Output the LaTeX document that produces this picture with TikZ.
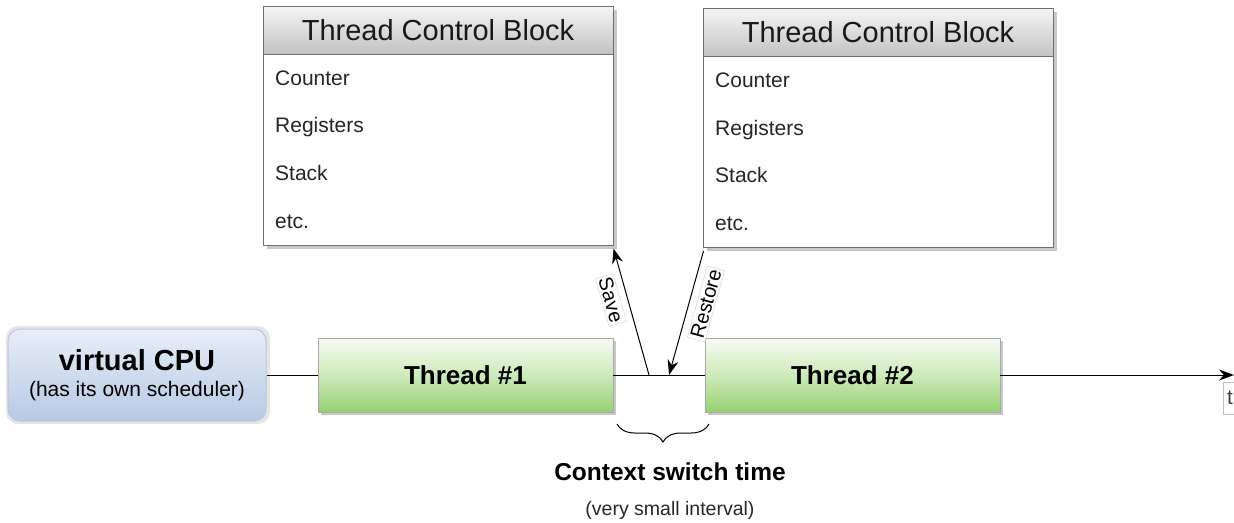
\documentclass[tikz,border=0pt]{standalone}
\usepackage{fontspec}
\setmainfont{Liberation Sans}
\usetikzlibrary{arrows.meta,decorations.pathreplacing,shadings}
\definecolor{tcbborder}{HTML}{707070}
\definecolor{tcbtop}{HTML}{F5F5F5}
\definecolor{tcbbot}{HTML}{C2C2C2}
\definecolor{shadowgray}{HTML}{C8C8C8}
\definecolor{grtop}{HTML}{F6FBF2}
\definecolor{grmid}{HTML}{CDEABB}
\definecolor{grbot}{HTML}{96D071}
\definecolor{thborder}{HTML}{A8A8A8}
\definecolor{cputop}{HTML}{E8EEF8}
\definecolor{cpubot}{HTML}{B6C9E4}
\definecolor{cpuborder}{HTML}{B9C7DA}
\newcommand{\fsz}[1]{\fontsize{#1}{#1}\selectfont}
\tikzset{
  tcbhead/.style={draw=tcbborder, line width=1pt, top color=tcbtop, bottom color=tcbbot,
    minimum width=350pt, minimum height=48pt, inner sep=0pt},
  tcbbody/.style={draw=tcbborder, line width=1pt, fill=white,
    minimum width=350pt, minimum height=191pt, inner sep=0pt},
  tcbtitle/.style={anchor=base, inner sep=0pt, font=\fsz{29}, text=black!90},
  tcbitem/.style={anchor=base west, inner sep=0pt, font=\fsz{21}, text=black!85},
  threadbox/.style={draw=thborder, line width=0.8pt, top color=grtop, bottom color=grbot, middle color=grmid,
    minimum width=295pt, minimum height=74pt, inner sep=0pt, font=\bfseries\fsz{26}},
  arr/.style={-{Stealth[length=15pt,width=11pt]}, line width=1pt},
  tline/.style={line width=1pt},
  rotlabel/.style={draw=black!20, fill=white, inner sep=2pt, font=\fsz{20}},
}
\begin{document}
\begin{tikzpicture}[x=1pt,y=-1pt]
\useasboundingbox (0,0) rectangle (1234,522);
\clip (0,0) rectangle (1234,522);
% shadows
\fill[shadowgray] (267,10) rectangle (617,249);
\fill[shadowgray] (707,12) rectangle (1057,251);
\fill[shadowgray] (321,341) rectangle (616,415);
\fill[shadowgray] (708,341) rectangle (1003,415);
\fill[black!10, rounded corners=12pt] (6,326) rectangle (270,424);
% TCB 1
\node[tcbbody] (tcb1) at (438,149.5) {};
\node[tcbhead] (tcb1h) at (438,30) {};
\node[tcbtitle] (t1) at (438,40) {Thread Control Block};
\node[tcbitem] (c1) at (275,85) {Counter};
\node[tcbitem] (r1) at (275,132) {Registers};
\node[tcbitem] (s1) at (275,180) {Stack};
\node[tcbitem] (e1) at (275,228) {etc.};
% TCB 2
\node[tcbbody] (tcb2) at (878,152) {};
\node[tcbhead] (tcb2h) at (878,32.5) {};
\node[tcbtitle] (t2) at (878,42) {Thread Control Block};
\node[tcbitem] (c2) at (715,87) {Counter};
\node[tcbitem] (r2) at (715,135) {Registers};
\node[tcbitem] (s2) at (715,182) {Stack};
\node[tcbitem] (e2) at (715,230) {etc.};
% CPU
\node[draw=cpuborder, line width=1pt, rounded corners=12pt, top color=cputop, bottom color=cpubot,
  minimum width=258pt, minimum height=92pt, inner sep=0pt, align=center] (cpu) at (137,375)
  {{\bfseries\fsz{29}virtual CPU}\\[9pt]{\fsz{21}(has its own scheduler)}};
% threads
\node[threadbox] (th1) at (465.5,375) {Thread \#1};
\node[threadbox] (th2) at (852.5,375) {Thread \#2};
% time label
\fill[white, draw=black!25] (1223,382) rectangle (1260,414);
\node[anchor=west, inner sep=0pt, font=\fsz{21}, text=black!75] (tlab) at (1227,398) {t};
% timeline
\coordinate (tend) at (1234,375);
\coordinate (sv) at (649,375);
\coordinate (rs) at (669,375);
\draw[tline] (cpu.east) -- (th1.west);
\draw[tline] (th1.east) -- (th2.west);
\draw[arr] (th2.east) -- (tend);
% save / restore
\draw[arr] (sv) -- ([yshift=-3pt]tcb1.south east);
\draw[arr] ([xshift=1pt,yshift=-3pt]tcb2.south west) -- (rs);
\node[rotlabel, rotate=-74] (savel) at (611,300) {Save};
\node[rotlabel, rotate=74.5] (restl) at (706,304) {Restore};
% brace
\draw[line width=1pt, decorate, decoration={brace, mirror, amplitude=18pt}] (617,424) -- (709,424);
\node[font=\bfseries\fsz{24.5}] (cst) at (670,472) {Context switch time};
\node[font=\fsz{19.5}, text=black!85] (vsi) at (670,510) {(very small interval)};
\end{tikzpicture}
\end{document}
